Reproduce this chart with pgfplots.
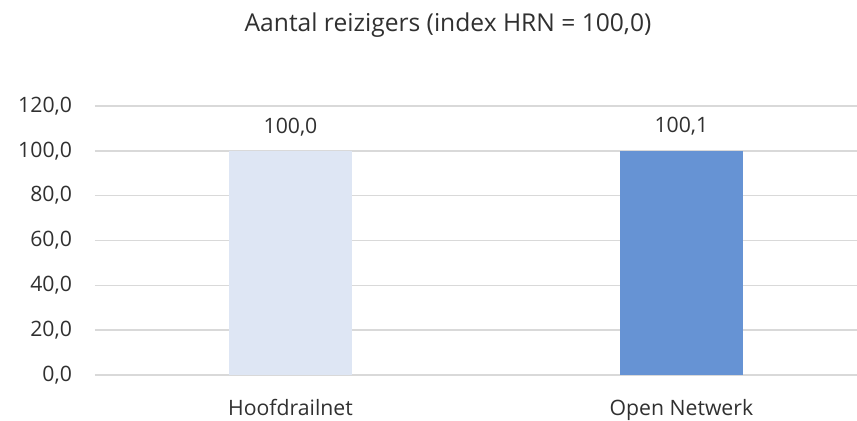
\documentclass[border=0pt]{standalone}
\usepackage{fontspec}
\setmainfont{Open Sans}
\usepackage{pgfplots}
\pgfplotsset{compat=1.18}
\definecolor{barlight}{HTML}{DEE6F4}
\definecolor{bardark}{HTML}{6693D4}
\definecolor{gridgray}{HTML}{D9D9D9}
\definecolor{txt}{HTML}{303030}

\begin{document}
\begin{tikzpicture}
  % frame of the whole chart, 1px = 0.5pt, plot area corner at origin
  \path[use as bounding box] (-47.5pt,-22.5pt) rectangle (381pt,187.5pt);
  \begin{axis}[
      scale only axis,
      width=381pt, height=134.5pt,
      xmin=-0.5, xmax=1.449,
      ymin=0, ymax=120,
      ytick={0,20,...,120},
      xtick={0,1},
      xticklabels={Hoofdrailnet, Open Netwerk},
      ymajorgrids,
      major grid style={gridgray, line width=0.75pt},
      axis line style={draw=none},
      major tick length=0pt,
      tick label style={font=\fontsize{10.6}{12}\selectfont, text=txt},
      yticklabel style={xshift=-8pt},
      xticklabel style={yshift=-8.5pt},
      /pgf/number format/.cd, fixed, fixed zerofill, precision=1, use comma,
        assume math mode=true,
      /pgfplots/.cd,
      ybar, bar width=61.5pt, bar shift=0pt,
      nodes near coords,
      every node near coord/.append style={font=\fontsize{10.6}{12}\selectfont,
        text=txt, yshift=4pt},
    ]
    \addplot[fill=barlight, draw=none] coordinates {(0,100.0)};
    \addplot[fill=bardark, draw=none] coordinates {(1,100.1)};
  \end{axis}
  \node[anchor=base, text=txt, font=\fontsize{12.3}{14}\selectfont]
    at (176.5pt,172pt) {Aantal reizigers (index HRN = 100,0)};
\end{tikzpicture}
\end{document}
